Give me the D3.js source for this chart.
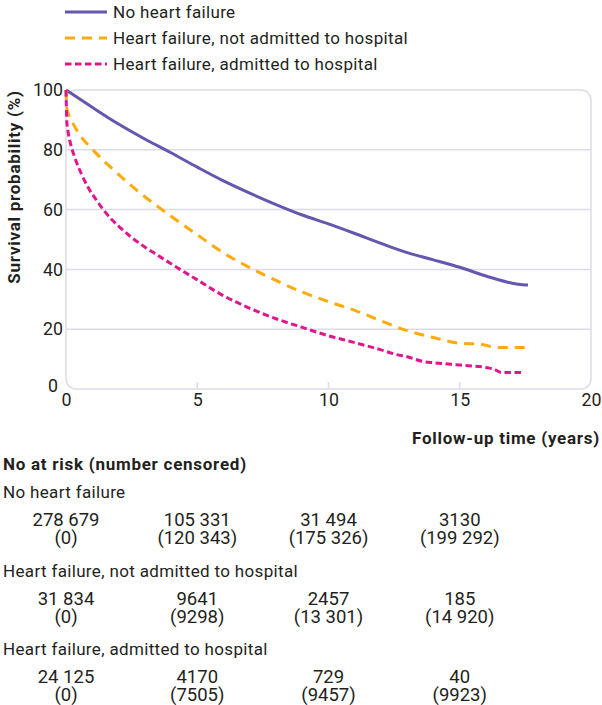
<!DOCTYPE html>
<html>
<head>
<meta charset="utf-8">
<script src="https://cdn.jsdelivr.net/npm/d3@7"></script>
<style>
  html, body { margin: 0; padding: 0; background: #ffffff; }
  svg { display: block; }
  text { font-family: Roboto, "Noto Sans", sans-serif; fill: #231f20; }
</style>
</head>
<body>
<script>
// ---------------- data ----------------
const seriesNames = ["No heart failure", "Heart failure, not admitted to hospital", "Heart failure, admitted to hospital"];

const noHFTime = [0, 1, 2, 3, 4, 5, 6, 7, 8, 9, 10, 11, 12, 13, 14, 15, 16, 17, 17.4, 17.6];
const noHFSurv = [100, 94.2, 88.6, 83.6, 79, 74.2, 69.6, 65.5, 61.7, 58.2, 55.2, 52, 48.7, 45.6, 43.2, 40.7, 37.8, 35.4, 34.9, 34.8];

const hfNotAdmTime = [0, 0.03, 0.1, 0.22, 0.5, 1, 1.5, 2, 2.5, 3, 3.5, 4, 5, 6, 7, 8, 9, 10, 11, 12, 13, 14, 15, 15.8, 16.2, 16.5, 17.6];
const hfNotAdmSurv = [100, 94, 91.8, 89.6, 85.3, 80.2, 75.8, 71.8, 67.9, 64.3, 61, 57.8, 51.6, 45.5, 40.6, 36.3, 32.4, 29.2, 26.3, 22.8, 19.5, 17.2, 15.3, 15, 14.2, 13.9, 13.9];

const hfAdmTime = [0, 0.01, 0.03, 0.08, 0.15, 0.34, 0.6, 0.85, 1.1, 1.42, 1.74, 2, 2.5, 3, 3.5, 4, 5, 6, 7, 8, 9, 10, 11, 12, 12.6, 13, 13.6, 14, 15, 16, 16.3, 16.6, 17.4];
const hfAdmSurv = [100, 96, 89.6, 86, 82.9, 77.3, 71.7, 67.3, 63.9, 60, 56.7, 54.5, 50.7, 47.5, 44.7, 41.9, 36.5, 31.2, 27, 23.5, 20.6, 17.8, 15.5, 13.1, 11.5, 10.8, 9.2, 8.8, 8, 7.2, 6.6, 5.5, 5.5];

const xTicks = [0, 5, 10, 15, 20];
const yTicks = [0, 20, 40, 60, 80, 100];

const riskTimes = [0, 5, 10, 15];
const atRiskNoHF = [278679, 105331, 31494, 3130];
const censNoHF = [0, 120343, 175326, 199292];
const atRiskHFNotAdm = [31834, 9641, 2457, 185];
const censHFNotAdm = [0, 9298, 13301, 14920];
const atRiskHFAdm = [24125, 4170, 729, 40];
const censHFAdm = [0, 7505, 9457, 9923];

// ---------------- styling ----------------
const colors = ["#6656ae", "#fdab0a", "#e0178c"];
const dashes = [null, "10,7", "6.5,3.5"];
const gridColor = "#dcdbe6";
const FONT = "Roboto, 'Noto Sans', sans-serif";

const W = 602, H = 705;
const svg = d3.select("body").append("svg").attr("width", W).attr("height", H);

const x = d3.scaleLinear().domain([0, 20]).range([66, 591]);
const y = d3.scaleLinear().domain([0, 100]).range([389, 90]);

function measure(txt, size, weight) {
  const t = svg.append("text").attr("font-size", size).attr("font-weight", weight || 400).text(txt);
  const w = t.node().getComputedTextLength();
  t.remove();
  return w;
}
// regular text: 17px with letter-spacing tuned to reference width
const textFS = 17;
const refText = seriesNames[1];
const textLS = (295 - measure(refText, textFS)) / refText.length;
// bold titles
const boldFS = 17;
const refBold = "Follow-up time (years)";
const boldLS = (188 - measure(refBold, boldFS, 700)) / refBold.length;
// numbers and ticks
const numFS = 16 * 67 / measure("278 679", 16);
const tickFS = 16 * 30 / measure("100", 16);

// ---------------- plot frame & grid ----------------
const plot = svg.append("g");
plot.selectAll("line.grid").data(yTicks.filter(d => d > 0 && d < 100)).join("line")
  .attr("class", "grid")
  .attr("x1", x(0)).attr("x2", x(20))
  .attr("y1", d => y(d)).attr("y2", d => y(d))
  .attr("stroke", gridColor).attr("stroke-width", 1.5);

plot.append("rect")
  .attr("x", x(0)).attr("y", y(100))
  .attr("width", x(20) - x(0)).attr("height", y(0) - y(100))
  .attr("rx", 10).attr("ry", 10)
  .attr("fill", "none").attr("stroke", gridColor).attr("stroke-width", 1.5);

plot.selectAll("line.xtick").data(xTicks.filter(d => d > 0 && d < 20)).join("line")
  .attr("class", "xtick")
  .attr("x1", d => x(d)).attr("x2", d => x(d))
  .attr("y1", y(0)).attr("y2", y(0) - 7)
  .attr("stroke", gridColor).attr("stroke-width", 1.5);

// axes labels via d3 axes
const xAxis = svg.append("g").attr("transform", `translate(0,${y(0)})`)
  .call(d3.axisBottom(x).tickValues(xTicks).tickSize(0).tickPadding(4));
xAxis.select(".domain").remove();
xAxis.selectAll("text").attr("font-size", tickFS).attr("font-family", FONT).attr("fill", "#231f20");

const yAxis = svg.append("g").attr("transform", `translate(${x(0) - 3},0)`)
  .call(d3.axisLeft(y).tickValues(yTicks).tickSize(0).tickPadding(0));
yAxis.select(".domain").remove();
yAxis.selectAll("text").attr("font-size", tickFS).attr("font-family", FONT).attr("fill", "#231f20");
yAxis.selectAll(".tick").filter(d => d === 0).select("text")
  .attr("dx", -5).attr("dy", "0.12em");

// ---------------- curves ----------------
const series = [
  { t: noHFTime, s: noHFSurv },
  { t: hfNotAdmTime, s: hfNotAdmSurv },
  { t: hfAdmTime, s: hfAdmSurv }
];
const line = d3.line().x(d => x(d[0])).y(d => y(d[1])).curve(d3.curveMonotoneX);
series.forEach((ser, i) => {
  const pts = ser.t.map((t, k) => [t, ser.s[k]]);
  svg.append("path").datum(pts)
    .attr("d", line)
    .attr("fill", "none")
    .attr("stroke", colors[i])
    .attr("stroke-width", 3)
    .attr("stroke-linejoin", "round")
    .attr("stroke-dasharray", dashes[i]);
});

// ---------------- legend ----------------
const legY = [12, 38, 64];
const leg = svg.append("g");
seriesNames.forEach((name, i) => {
  leg.append("line")
    .attr("x1", 65).attr("x2", 107)
    .attr("y1", legY[i]).attr("y2", legY[i])
    .attr("stroke", colors[i]).attr("stroke-width", 3)
    .attr("stroke-dasharray", dashes[i]);
  leg.append("text")
    .attr("x", 113).attr("y", legY[i]).attr("dy", "0.35em")
    .attr("font-size", textFS).attr("letter-spacing", textLS)
    .text(name);
});

// ---------------- axis titles ----------------
svg.append("text")
  .attr("transform", "translate(20,187) rotate(-90)")
  .attr("text-anchor", "middle")
  .attr("font-weight", 700).attr("font-size", boldFS).attr("letter-spacing", boldLS)
  .text("Survival probability (%)");

svg.append("text")
  .attr("x", 600).attr("y", 438).attr("dy", "0.35em")
  .attr("text-anchor", "end")
  .attr("font-weight", 700).attr("font-size", boldFS).attr("letter-spacing", boldLS)
  .text("Follow-up time (years)");

// ---------------- number at risk table ----------------
svg.append("text")
  .attr("x", 3).attr("y", 464).attr("dy", "0.35em")
  .attr("font-weight", 700).attr("font-size", boldFS).attr("letter-spacing", boldLS)
  .text("No at risk (number censored)");

const fmtGroup = d3.format(",");
const fmt = n => (n >= 10000 ? fmtGroup(n).replace(/,/g, " ") : String(n));

const rows = [
  { label: seriesNames[0], atRisk: atRiskNoHF, cens: censNoHF, y: 492 },
  { label: seriesNames[1], atRisk: atRiskHFNotAdm, cens: censHFNotAdm, y: 571 },
  { label: seriesNames[2], atRisk: atRiskHFAdm, cens: censHFAdm, y: 649 }
];
rows.forEach(r => {
  svg.append("text").attr("x", 3).attr("y", r.y).attr("dy", "0.35em")
    .attr("font-size", textFS).attr("letter-spacing", textLS).text(r.label);
  const g = svg.append("g");
  g.selectAll("text.n").data(riskTimes).join("text")
    .attr("class", "n")
    .attr("x", d => x(d)).attr("y", r.y + 28).attr("dy", "0.35em")
    .attr("text-anchor", "middle").attr("font-size", numFS)
    .text((d, k) => fmt(r.atRisk[k]));
  g.selectAll("text.c").data(riskTimes).join("text")
    .attr("class", "c")
    .attr("x", d => x(d)).attr("y", r.y + 46).attr("dy", "0.35em")
    .attr("text-anchor", "middle").attr("font-size", numFS)
    .text((d, k) => "(" + fmt(r.cens[k]) + ")");
});
</script>
</body>
</html>
